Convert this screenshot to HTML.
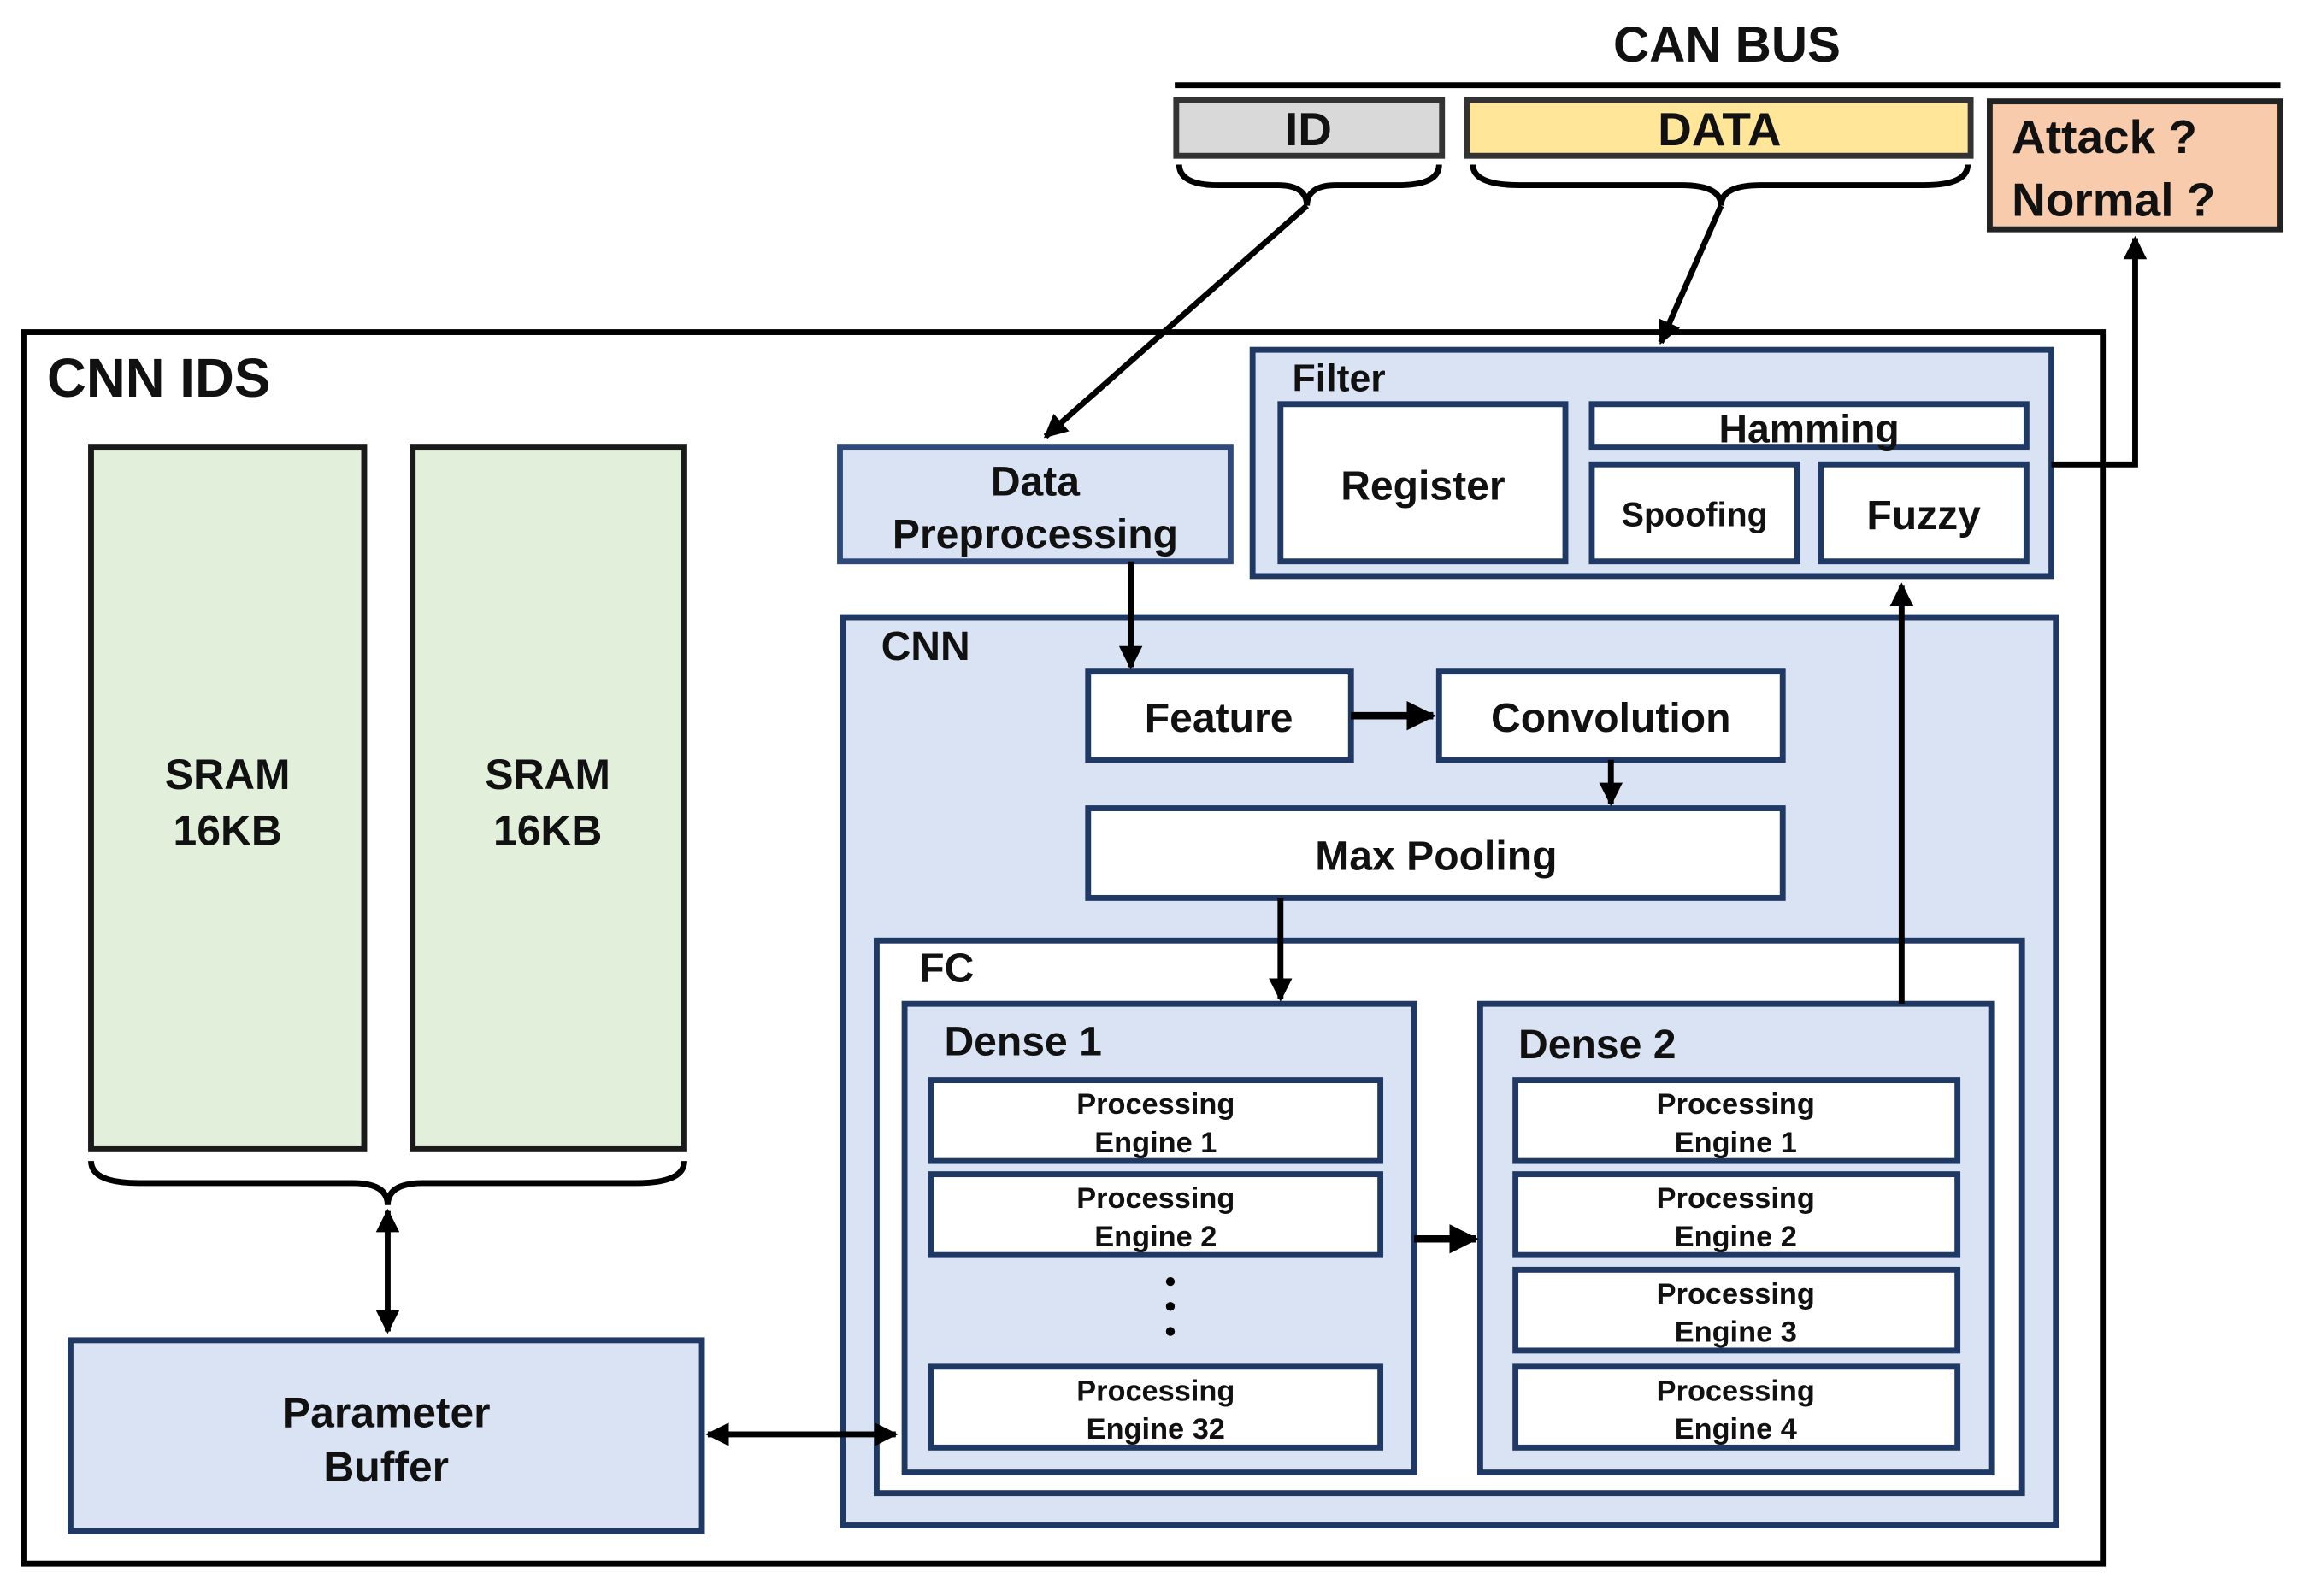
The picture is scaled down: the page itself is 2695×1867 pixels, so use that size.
<!DOCTYPE html>
<html><head><meta charset="utf-8"><style>
html,body{margin:0;padding:0;background:#fff;}
svg{display:block;}
text{font-family:"Liberation Sans",sans-serif;font-weight:bold;fill:#111;}
</style></head><body>
<svg width="2695" height="1867" viewBox="0 0 1569 1086" preserveAspectRatio="none" xmlns="http://www.w3.org/2000/svg">
<defs>
<marker id="ah" viewBox="0 0 10 10" refX="9" refY="5" markerWidth="4" markerHeight="4" orient="auto-start-reverse"><path d="M0,0 L10,5 L0,10 z" fill="#000"/></marker>
</defs>
<g stroke-linejoin="miter">
<text x="1176" y="42" font-size="34" text-anchor="middle">CAN BUS</text>
<line x1="800" y1="58" x2="1553" y2="58" stroke="#000" stroke-width="4"/>
<rect x="801" y="68" width="181" height="38" fill="#d9d9d9" stroke="#333" stroke-width="4"/>
<text x="891" y="99" font-size="32" text-anchor="middle">ID</text>
<rect x="999" y="68" width="343" height="38" fill="#ffe699" stroke="#333" stroke-width="4"/>
<text x="1171" y="99" font-size="32" text-anchor="middle">DATA</text>
<rect x="1355" y="69" width="198" height="87" fill="#f8cbad" stroke="#222" stroke-width="4"/>
<text x="1370" y="104" font-size="32">Attack ?</text>
<text x="1370" y="147" font-size="32">Normal ?</text>
<path d="M803,112 Q803,126 830,126 L870,126 Q890,126 890,140 Q890,126 910,126 L952,126 Q980,126 980,112" fill="none" stroke="#000" stroke-width="4"/>
<path d="M1003,112 Q1003,126 1035,126 L1145,126 Q1172,126 1172,140 Q1172,126 1199,126 L1310,126 Q1340,126 1340,112" fill="none" stroke="#000" stroke-width="4"/>
<rect x="16" y="226" width="1416" height="838" fill="none" stroke="#000" stroke-width="4"/>
<text x="32" y="270" font-size="37">CNN IDS</text>
<rect x="62" y="304" width="186" height="478" fill="#e2efda" stroke="#1a1a1a" stroke-width="4"/>
<rect x="281" y="304" width="185" height="478" fill="#e2efda" stroke="#1a1a1a" stroke-width="4"/>
<text x="155" y="537" font-size="29" text-anchor="middle">SRAM</text>
<text x="155" y="575" font-size="29" text-anchor="middle">16KB</text>
<text x="373" y="537" font-size="29" text-anchor="middle">SRAM</text>
<text x="373" y="575" font-size="29" text-anchor="middle">16KB</text>
<path d="M62,790 Q62,805 95,805 L240,805 Q264,805 264,820 Q264,805 288,805 L433,805 Q466,805 466,790" fill="none" stroke="#000" stroke-width="4"/>
<rect x="48" y="912" width="430" height="130" fill="#dae3f3" stroke="#1f3864" stroke-width="4"/>
<text x="263" y="971" font-size="29" text-anchor="middle">Parameter</text>
<text x="263" y="1008" font-size="29" text-anchor="middle">Buffer</text>
<rect x="572" y="304" width="266" height="78" fill="#dae3f3" stroke="#2f4a7a" stroke-width="4"/>
<text x="705" y="337" font-size="28" text-anchor="middle">Data</text>
<text x="705" y="373" font-size="28" text-anchor="middle">Preprocessing</text>
<rect x="853" y="238" width="544" height="154" fill="#dae3f3" stroke="#1f3864" stroke-width="4"/>
<text x="880" y="266" font-size="26">Filter</text>
<rect x="872" y="275" width="194" height="107" fill="#fff" stroke="#1f3864" stroke-width="4"/>
<text x="969" y="340" font-size="28" text-anchor="middle">Register</text>
<rect x="1084" y="275" width="296" height="29" fill="#fff" stroke="#1f3864" stroke-width="4"/>
<text x="1232" y="301" font-size="27" text-anchor="middle">Hamming</text>
<rect x="1084" y="316" width="140" height="66" fill="#fff" stroke="#1f3864" stroke-width="4"/>
<text x="1154" y="358" font-size="23" text-anchor="middle">Spoofing</text>
<rect x="1240" y="316" width="140" height="66" fill="#fff" stroke="#1f3864" stroke-width="4"/>
<text x="1310" y="360" font-size="28" text-anchor="middle">Fuzzy</text>
<rect x="574" y="420" width="826" height="618" fill="#dae3f3" stroke="#1f3864" stroke-width="4"/>
<text x="600" y="449" font-size="28">CNN</text>
<rect x="741" y="457" width="179" height="60" fill="#fff" stroke="#1f3864" stroke-width="4"/>
<text x="830" y="498" font-size="28" text-anchor="middle">Feature</text>
<rect x="980" y="457" width="234" height="60" fill="#fff" stroke="#1f3864" stroke-width="4"/>
<text x="1097" y="498" font-size="28" text-anchor="middle">Convolution</text>
<rect x="741" y="550" width="473" height="61" fill="#fff" stroke="#1f3864" stroke-width="4"/>
<text x="978" y="592" font-size="28" text-anchor="middle">Max Pooling</text>
<rect x="597" y="640" width="780" height="376" fill="#fff" stroke="#1f3864" stroke-width="4"/>
<text x="626" y="668" font-size="28">FC</text>
<rect x="616" y="683" width="347" height="319" fill="#dae3f3" stroke="#1f3864" stroke-width="4"/>
<text x="643" y="718" font-size="28">Dense 1</text>
<rect x="1008" y="683" width="348" height="319" fill="#dae3f3" stroke="#1f3864" stroke-width="4"/>
<text x="1034" y="720" font-size="28">Dense 2</text>
<g font-size="20" text-anchor="middle">
<rect x="634" y="735" width="306" height="55" fill="#fff" stroke="#1f3864" stroke-width="4"/>
<text x="787" y="758">Processing</text><text x="787" y="784">Engine 1</text>
<rect x="634" y="799" width="306" height="55" fill="#fff" stroke="#1f3864" stroke-width="4"/>
<text x="787" y="822">Processing</text><text x="787" y="848">Engine 2</text>
<rect x="634" y="930" width="306" height="55" fill="#fff" stroke="#1f3864" stroke-width="4"/>
<text x="787" y="953">Processing</text><text x="787" y="979">Engine 32</text>
<rect x="1032" y="735" width="301" height="55" fill="#fff" stroke="#1f3864" stroke-width="4"/>
<text x="1182" y="758">Processing</text><text x="1182" y="784">Engine 1</text>
<rect x="1032" y="799" width="301" height="55" fill="#fff" stroke="#1f3864" stroke-width="4"/>
<text x="1182" y="822">Processing</text><text x="1182" y="848">Engine 2</text>
<rect x="1032" y="864" width="301" height="55" fill="#fff" stroke="#1f3864" stroke-width="4"/>
<text x="1182" y="887">Processing</text><text x="1182" y="913">Engine 3</text>
<rect x="1032" y="930" width="301" height="55" fill="#fff" stroke="#1f3864" stroke-width="4"/>
<text x="1182" y="953">Processing</text><text x="1182" y="979">Engine 4</text>
</g>
<circle cx="797" cy="872" r="3" fill="#000"/>
<circle cx="797" cy="889" r="3" fill="#000"/>
<circle cx="797" cy="906" r="3" fill="#000"/>
<line x1="890" y1="140" x2="712" y2="297" stroke="#000" stroke-width="4" marker-end="url(#ah)"/>
<line x1="1172" y1="140" x2="1131" y2="233" stroke="#000" stroke-width="4" marker-end="url(#ah)"/>
<line x1="264" y1="824" x2="264" y2="906" stroke="#000" stroke-width="4" marker-start="url(#ah)" marker-end="url(#ah)"/>
<line x1="482" y1="976" x2="610" y2="976" stroke="#000" stroke-width="4" marker-start="url(#ah)" marker-end="url(#ah)"/>
<line x1="770" y1="382" x2="770" y2="454" stroke="#000" stroke-width="4" marker-end="url(#ah)"/>
<polyline points="1397,316 1454,316 1454,162" fill="none" stroke="#000" stroke-width="4" marker-end="url(#ah)"/>
<line x1="920" y1="487" x2="976" y2="487" stroke="#000" stroke-width="5" marker-end="url(#ah)"/>
<line x1="1097" y1="517" x2="1097" y2="547" stroke="#000" stroke-width="4" marker-end="url(#ah)"/>
<line x1="872" y1="611" x2="872" y2="680" stroke="#000" stroke-width="4" marker-end="url(#ah)"/>
<line x1="963" y1="843" x2="1005" y2="843" stroke="#000" stroke-width="5" marker-end="url(#ah)"/>
<line x1="1295" y1="683" x2="1295" y2="398" stroke="#000" stroke-width="4" marker-end="url(#ah)"/>
</g>
</svg>
</body></html>
